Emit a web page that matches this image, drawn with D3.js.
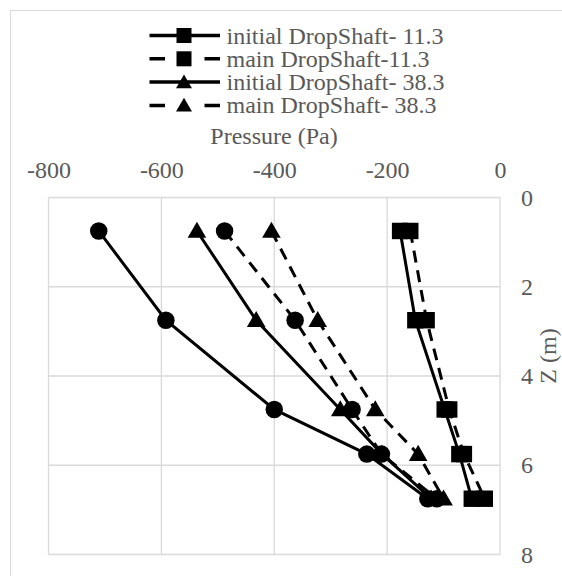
<!DOCTYPE html>
<html>
<head>
<meta charset="utf-8">
<script src="https://cdn.jsdelivr.net/npm/d3@7"></script>
<style>
  body { margin: 0; background: #fff; }
</style>
</head>
<body>
<div id="chart"></div>
<script>
// depth of the probes (m)
const zLevels = [0.75, 2.75, 4.75, 5.75, 6.75];

// pressures (Pa)
const initial113 = [-177, -150, -98, -72, -50];
const main113 = [-159, -130, -90, -64, -27];
const initial383 = [-537, -432, -283, -209, -122];
const main383 = [-405, -323, -221, -145, -100];
const initialCircle = [-711, -592, -400, -236, -128];
const mainCircle = [-488, -363, -262, -210, -112];

const xTicks = [-800, -600, -400, -200, 0];
const zTicks = [0, 2, 4, 6, 8];

const series = [
  { name: "initial DropShaft- 11.3", values: initial113, shape: "square", dashed: false, legend: true },
  { name: "main DropShaft-11.3", values: main113, shape: "square", dashed: true, legend: true },
  { name: "initial DropShaft- 38.3", values: initial383, shape: "triangle", dashed: false, legend: true },
  { name: "main DropShaft- 38.3", values: main383, shape: "triangle", dashed: true, legend: true },
  { name: "initial", values: initialCircle, shape: "circle", dashed: false, legend: false },
  { name: "main", values: mainCircle, shape: "circle", dashed: true, legend: false }
];

const width = 562, height = 576;
const plot = { left: 48.5, right: 500, top: 197.5, bottom: 554.5 };
const grid = "#d9d9d9", textCol = "#595959";
const font = "'Liberation Serif'";

const x = d3.scaleLinear().domain([-800, 0]).range([plot.left, plot.right]);
const y = d3.scaleLinear().domain([0, 8]).range([plot.top, plot.bottom]);

const svg = d3.select("#chart").append("svg")
  .attr("width", width)
  .attr("height", height);

// chart border
svg.append("rect")
  .attr("x", 10.5).attr("y", 10.5)
  .attr("width", width).attr("height", height)
  .attr("fill", "none").attr("stroke", grid);

// gridlines
svg.append("g")
  .selectAll("line")
  .data(xTicks)
  .join("line")
    .attr("x1", d => x(d)).attr("x2", d => x(d))
    .attr("y1", plot.top).attr("y2", plot.bottom)
    .attr("stroke", grid).attr("stroke-width", 1.3);

svg.append("g")
  .selectAll("line")
  .data(zTicks)
  .join("line")
    .attr("x1", plot.left).attr("x2", plot.right)
    .attr("y1", d => y(d)).attr("y2", d => y(d))
    .attr("stroke", grid).attr("stroke-width", 1.3);

// top axis (pressure)
const xAxis = svg.append("g")
  .attr("transform", `translate(0,177.5)`)
  .call(d3.axisTop(x).tickValues(xTicks).tickSize(0).tickPadding(0).tickFormat(d => String(d)));
xAxis.attr("font-family", null).attr("font-size", null);
xAxis.select(".domain").remove();
xAxis.selectAll("text")
  .attr("font-size", 24)
  .style("font-family", font)
  .attr("fill", textCol);

// right axis (Z)
const yAxis = svg.append("g")
  .attr("transform", `translate(527,0)`)
  .call(d3.axisRight(y).tickValues(zTicks).tickSize(0).tickPadding(0).tickFormat(d => String(d)));
yAxis.attr("font-family", null).attr("font-size", null);
yAxis.select(".domain").remove();
yAxis.selectAll("text")
  .attr("text-anchor", "middle")
  .attr("font-size", 24)
  .style("font-family", font)
  .attr("fill", textCol);

svg.append("text")
  .attr("x", 274).attr("y", 144)
  .attr("text-anchor", "middle")
  .attr("font-size", 24)
  .style("font-family", font)
  .attr("fill", textCol)
  .text("Pressure (Pa)");

svg.append("text")
  .attr("transform", `translate(556,356) rotate(-90)`)
  .attr("text-anchor", "middle")
  .attr("font-size", 24)
  .style("font-family", font)
  .attr("fill", textCol)
  .text("Z (m)");

// markers
const symbolOf = {
  square: d3.symbol(d3.symbolSquare, 270),
  triangle: d3.symbol(d3.symbolTriangle, 150),
  circle: d3.symbol(d3.symbolCircle, 240)
};
const legendSymbol = {
  square: d3.symbol(d3.symbolSquare, 225),
  triangle: d3.symbol(d3.symbolTriangle, 110)
};

const line = d3.line()
  .x(d => x(d.p))
  .y(d => y(d.z));

const lines = svg.append("g");
series.forEach(s => {
  const pts = s.values.map((p, i) => ({ p, z: zLevels[i] }));
  const g = lines.append("g");
  g.append("path")
    .datum(pts)
    .attr("fill", "none")
    .attr("stroke", "#000")
    .attr("stroke-width", 3)
    .attr("stroke-dasharray", s.dashed ? "12,8" : null)
    .attr("d", line);
  g.selectAll("path.mk")
    .data(pts)
    .join("path")
      .attr("class", "mk")
      .attr("transform", d => `translate(${x(d.p)},${y(d.z) + (s.shape === "triangle" ? 1.5 : 0)})`)
      .attr("d", symbolOf[s.shape])
      .attr("fill", "#000");
});

// legend
const legendRows = series.filter(s => s.legend);
const legend = svg.append("g")
  .selectAll("g")
  .data(legendRows)
  .join("g")
    .attr("transform", (d, i) => `translate(0,${35.5 + i * 23.3})`);

legend.append("line")
  .attr("x1", 149.5).attr("x2", 220)
  .attr("stroke", "#000").attr("stroke-width", 3.5)
  .attr("stroke-dasharray", d => d.dashed ? "15.5,39.5" : null);

legend.append("path")
  .attr("transform", d => `translate(184,${d.shape === "triangle" ? 1.5 : 0})`)
  .attr("d", d => legendSymbol[d.shape]())
  .attr("fill", "#000");

legend.append("text")
  .attr("x", 226.5).attr("y", 8)
  .attr("font-size", 24)
  .style("font-family", font)
  .attr("fill", textCol)
  .text(d => d.name);
</script>
</body>
</html>
